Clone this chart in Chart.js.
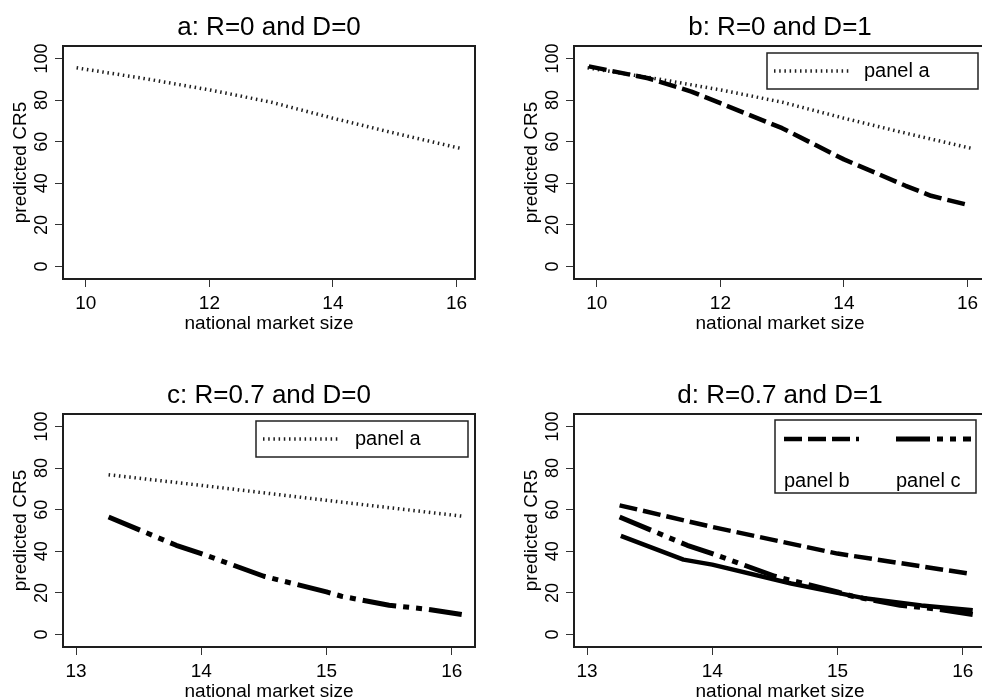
<!DOCTYPE html>
<html>
<head>
<meta charset="utf-8">
<script src="https://cdn.jsdelivr.net/npm/chart.js@4.4.1/dist/chart.umd.min.js"></script>
<style>
  html, body { margin: 0; padding: 0; background: #fff; width: 982px; height: 699px; overflow: hidden; position: relative; }
  canvas { position: absolute; }
</style>
</head>
<body>
<canvas id="pa" width="500" height="360" style="left:0;top:0"></canvas>
<canvas id="pb" width="500" height="360" style="left:511px;top:0"></canvas>
<canvas id="pc" width="500" height="360" style="left:0;top:368px"></canvas>
<canvas id="pd" width="500" height="360" style="left:511px;top:368px"></canvas>
<script>
// ---- data: predicted CR5 against national market size ----
const yTicks = [0, 20, 40, 60, 80, 100];
const xTicksAB = [10, 12, 14, 16];
const xTicksCD = [13, 14, 15, 16];

// R=0, D=0 (full sample range)
const sizeA = [9.85, 11.0, 12.0, 13.0, 14.0, 15.0, 16.05];
const cr5A  = [95.5, 90.1, 84.9, 79.0, 71.3, 64.1, 56.9];

// R=0, D=1
const sizeB = [9.87, 10.83, 11.53, 12.0, 13.0, 14.0, 15.0, 15.41, 16.05];
const cr5B  = [96.2, 90.5, 84.1, 78.5, 66.5, 51.5, 38.8, 34.0, 29.3];

// R=0 curves evaluated over the R=0.7 sample range
const sizeSub  = [13.26, 14.0, 15.0, 16.08];
const cr5AonCD = [76.8, 71.7, 64.5, 56.9];
const cr5BonCD = [62.1, 51.7, 38.9, 29.0];

// R=0.7, D=0
const sizeC = [13.26, 13.8, 14.0, 14.5, 15.0, 15.12, 15.5, 15.8, 16.08];
const cr5C  = [56.5, 42.9, 38.9, 28.0, 20.5, 18.4, 14.1, 12.2, 9.6];

// R=0.7, D=1
const sizeD = [13.27, 13.77, 14.0, 14.63, 15.0, 15.2, 15.67, 16.08];
const cr5D  = [47.4, 36.0, 33.6, 24.5, 20.0, 17.6, 14.0, 11.7];

// ---- styling ----
const FONT = "'Liberation Sans', Arial, Helvetica, sans-serif";
Chart.defaults.font.family = FONT;
Chart.defaults.color = '#000';

const pts = (xs, ys) => xs.map((x, i) => ({ x: x, y: ys[i] }));
const dotted  = { borderColor: '#1e1e1e', borderWidth: 3.5, borderDash: [1.5, 3.7] };
const dashed  = { borderColor: '#000',    borderWidth: 4.5, borderDash: [18, 6] };
const dashDot = { borderColor: '#000',    borderWidth: 5,   borderDash: [34, 7, 6, 7, 6, 7] };
const solid   = { borderColor: '#000',    borderWidth: 4.5, borderDash: [] };

function series(label, xs, ys, style) {
  return Object.assign({ label: label, data: pts(xs, ys), pointRadius: 0, tension: 0,
    fill: false, borderCapStyle: 'butt', borderJoinStyle: 'round' }, style);
}

// Plot frame, rotated y tick labels and the boxed legend
const framePlugin = {
  id: 'frameLegend',
  afterDraw(chart, args, opts) {
    const ctx = chart.ctx;
    const a = chart.chartArea;
    ctx.save();
    ctx.strokeStyle = '#1e1e1e';
    ctx.lineWidth = 2;
    ctx.strokeRect(a.left, a.top, a.right - a.left, a.bottom - a.top);

    const ys = chart.scales.y;
    ctx.fillStyle = '#000';
    ctx.font = '18px ' + FONT;
    ctx.textAlign = 'center';
    ctx.textBaseline = 'alphabetic';
    ys.ticks.forEach(t => {
      const py = ys.getPixelForValue(t.value);
      ctx.save();
      ctx.translate(a.left - 16.5, py);
      ctx.rotate(-Math.PI / 2);
      ctx.fillText(String(t.value), 0, 0);
      ctx.restore();
    });

    const lg = opts.legend;
    if (lg) {
      const [x1, y1, x2, y2] = lg.box;
      ctx.fillStyle = '#fff';
      ctx.fillRect(x1, y1, x2 - x1, y2 - y1);
      ctx.strokeStyle = '#222';
      ctx.lineWidth = 1.5;
      ctx.strokeRect(x1, y1, x2 - x1, y2 - y1);
      lg.items.forEach(it => {
        const ds = chart.data.datasets[it.ds];
        ctx.save();
        ctx.strokeStyle = ds.borderColor;
        ctx.lineWidth = ds.borderWidth;
        ctx.setLineDash(ds.borderDash || []);
        ctx.lineCap = 'butt';
        ctx.beginPath();
        ctx.moveTo(it.line[0], it.line[2]);
        ctx.lineTo(it.line[1], it.line[2]);
        ctx.stroke();
        ctx.restore();
        ctx.fillStyle = '#000';
        ctx.font = '20px ' + FONT;
        ctx.textAlign = 'left';
        ctx.textBaseline = 'middle';
        ctx.fillText(ds.label, it.text[0], it.text[1]);
      });
    }
    ctx.restore();
  }
};

function panel(id, title, xMin, xMax, xTicks, datasets, legend) {
  return new Chart(document.getElementById(id), {
    type: 'line',
    data: { datasets: datasets },
    options: {
      responsive: false,
      animation: false,
      devicePixelRatio: 1,
      layout: { padding: { left: 0, right: 25, top: 0, bottom: 21 } },
      scales: {
        x: {
          type: 'linear', min: xMin, max: xMax,
          afterBuildTicks: s => { s.ticks = xTicks.map(v => ({ value: v })); },
          afterFit: s => { s.height = 60; },
          grid: { drawOnChartArea: false, drawTicks: true, tickLength: 8, color: '#333', lineWidth: 1 },
          border: { display: false },
          ticks: { color: '#000', font: { size: 19 }, padding: 5, maxRotation: 0, autoSkip: false,
                   callback: v => String(v) },
          title: { display: true, text: 'national market size', color: '#000',
                   font: { size: 19 }, padding: { top: 0, bottom: 4 } }
        },
        y: {
          type: 'linear', min: -6, max: 106,
          afterBuildTicks: s => { s.ticks = yTicks.map(v => ({ value: v })); },
          afterFit: s => { s.width = 63; },
          grid: { drawOnChartArea: false, drawTicks: true, tickLength: 8, color: '#333', lineWidth: 1 },
          border: { display: false },
          ticks: { display: false },
          title: { display: true, text: 'predicted CR5', color: '#000',
                   font: { size: 19 }, padding: { top: 9, bottom: 0 } }
        }
      },
      plugins: {
        legend: { display: false },
        tooltip: { enabled: false },
        title: { display: true, text: title, fullSize: false, color: '#000',
                 font: { size: 26, weight: 'normal' }, padding: { top: 12, bottom: 2.8 } },
        frameLegend: { legend: legend }
      }
    },
    plugins: [framePlugin]
  });
}

panel('pa', 'a: R=0 and D=0', 9.63, 16.3, xTicksAB, [
  series('panel a', sizeA, cr5A, dotted)
], null);

panel('pb', 'b: R=0 and D=1', 9.63, 16.3, xTicksAB, [
  series('R=0, D=1', sizeB, cr5B, dashed),
  series('panel a', sizeA, cr5A, dotted)
], { box: [256, 53, 467, 89], items: [{ ds: 1, line: [263, 340, 71], text: [353, 71] }] });

panel('pc', 'c: R=0.7 and D=0', 12.896, 16.186, xTicksCD, [
  series('R=0.7, D=0', sizeC, cr5C, dashDot),
  series('panel a', sizeSub, cr5AonCD, dotted)
], { box: [256, 53, 468, 89], items: [{ ds: 1, line: [263, 340, 71], text: [355, 71] }] });

panel('pd', 'd: R=0.7 and D=1', 12.896, 16.186, xTicksCD, [
  series('R=0.7, D=1', sizeD, cr5D, solid),
  series('panel b', sizeSub, cr5BonCD, dashed),
  series('panel c', sizeC, cr5C, dashDot)
], { box: [264, 52, 465, 125], items: [
  { ds: 1, line: [273, 348, 71], text: [273, 113] },
  { ds: 2, line: [385, 460, 71], text: [385, 113] }
] });
</script>
</body>
</html>
